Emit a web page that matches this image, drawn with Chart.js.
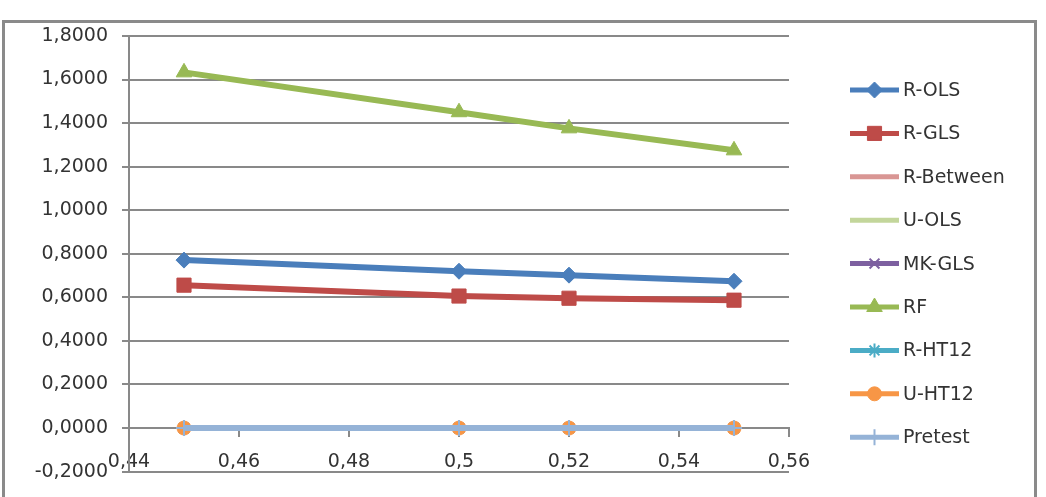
<!DOCTYPE html>
<html lang="en">
<head>
  <meta charset="UTF-8" />
  <title>Estimator comparison</title>
  <script src="https://cdn.jsdelivr.net/npm/chart.js"></script>
  <style>
    body {
      margin: 0;
      background: #fff;
    }
    #wrap {
      width: 1046px;
      height: 497px;
      position: relative;
    }
  </style>
</head>
<body>
  <div id="wrap">
    <canvas id="chart" width="1046" height="497"></canvas>
  </div>

  <script>
    // data
    const xValues = [0.45, 0.5, 0.52, 0.55];
    const xTickLabels = ["0,44", "0,46", "0,48", "0,5", "0,52", "0,54", "0,56"];
    const yTickLabels = ["-0,2000", "0,0000", "0,2000", "0,4000", "0,6000", "0,8000",
                         "1,0000", "1,2000", "1,4000", "1,6000", "1,8000"];

    const seriesNames = ["R-OLS", "R-GLS", "R-Between", "U-OLS", "MK-GLS", "RF", "R-HT12", "U-HT12", "Pretest"];
    const rOls     = [0.771, 0.720, 0.702, 0.674];
    const rGls     = [0.656, 0.606, 0.596, 0.587];
    const rBetween = [0.000, 0.000, 0.000, 0.000];
    const uOls     = [0.000, 0.000, 0.000, 0.000];
    const mkGls    = [0.000, 0.000, 0.000, 0.000];
    const rf       = [1.633, 1.450, 1.376, 1.275];
    const rHt12    = [0.000, 0.000, 0.000, 0.000];
    const uHt12    = [0.000, 0.000, 0.000, 0.000];
    const pretest  = [0.000, 0.000, 0.000, 0.000];

    const seriesValues = [rOls, rGls, rBetween, uOls, mkGls, rf, rHt12, uHt12, pretest];
    const seriesColors = ["#4a7ebb", "#be4b48", "#d99694", "#c3d69b", "#7d60a0", "#98b954", "#4bacc6", "#f79646", "#95b3d7"];
    const seriesMarkers = ["rectRot", "rect", false, false, "crossRot", "triangle", "star", "circle", "cross"];
    const markerSizes = [8, 10, 0, 0, 7, 9, 7, 7, 8];

    const FONT = "DejaVu Sans";
    const GRID = "#898989";
    const TEXT = "#333";

    const datasets = seriesNames.map((name, i) => ({
      label: name,
      data: xValues.map((x, j) => ({ x: x, y: seriesValues[i][j] })),
      borderColor: seriesColors[i],
      backgroundColor: seriesColors[i],
      borderWidth: 6,
      pointStyle: seriesMarkers[i],
      pointRadius: markerSizes[i],
      pointBorderWidth: seriesMarkers[i] === "cross" || seriesMarkers[i] === "crossRot" || seriesMarkers[i] === "star" ? 2 : 1,
      tension: 0,
      order: seriesNames.length - i
    }));

    // outer frame of the chart
    const framePlugin = {
      id: "frame",
      beforeDraw(chart) {
        const ctx = chart.ctx;
        ctx.save();
        ctx.strokeStyle = "#8a8a8a";
        ctx.lineWidth = 3;
        ctx.strokeRect(3.5, 21.5, 1032, 520);
        ctx.restore();
      }
    };

    // legend with line + marker samples
    const legendPlugin = {
      id: "sideLegend",
      afterDraw(chart) {
        const ctx = chart.ctx;
        const x0 = 850, x1 = 899, top = 90, step = 43.4;
        ctx.save();
        seriesNames.forEach((name, i) => {
          const y = top + i * step;
          ctx.strokeStyle = seriesColors[i];
          ctx.lineWidth = 5;
          ctx.lineCap = "butt";
          ctx.beginPath();
          ctx.moveTo(x0, y);
          ctx.lineTo(x1, y);
          ctx.stroke();
          if (seriesMarkers[i]) {
            ctx.fillStyle = seriesColors[i];
            ctx.strokeStyle = seriesColors[i];
            ctx.lineWidth = datasets[i].pointBorderWidth;
            Chart.helpers.drawPoint(ctx, {
              pointStyle: seriesMarkers[i],
              radius: markerSizes[i],
              rotation: 0,
              borderWidth: datasets[i].pointBorderWidth
            }, (x0 + x1) / 2, y);
          }
          ctx.fillStyle = TEXT;
          ctx.font = "19px '" + FONT + "'";
          ctx.textBaseline = "middle";
          ctx.textAlign = "left";
          ctx.fillText(name, 903, y + 1);
        });
        ctx.restore();
      }
    };

    new Chart(document.getElementById("chart"), {
      type: "line",
      data: { datasets: datasets },
      plugins: [framePlugin, legendPlugin],
      options: {
        responsive: false,
        devicePixelRatio: 1,
        animation: false,
        layout: { padding: { left: 0, top: 36, right: 257, bottom: 25 } },
        plugins: {
          legend: { display: false },
          tooltip: { enabled: false }
        },
        scales: {
          x: {
            type: "linear",
            min: 0.44,
            max: 0.56,
            position: { y: 0 },
            afterBuildTicks(scale) {
              scale.ticks = xTickLabels.map((t, i) => ({ value: 0.44 + i * 0.02 }));
            },
            grid: {
              drawOnChartArea: false,
              drawTicks: true,
              tickLength: 8,
              color: GRID,
              lineWidth: 2
            },
            border: { display: true, color: GRID, width: 2 },
            ticks: {
              padding: 15,
              maxRotation: 0,
              autoSkip: false,
              color: TEXT,
              font: { family: FONT, size: 19 },
              callback: (v, i) => xTickLabels[i]
            }
          },
          y: {
            min: -0.2,
            max: 1.8,
            afterBuildTicks(scale) {
              scale.ticks = yTickLabels.map((t, i) => ({ value: -0.2 + i * 0.2 }));
            },
            afterFit(scale) { scale.width = 129; },
            grid: {
              color: GRID,
              lineWidth: 2,
              drawTicks: true,
              tickLength: 7
            },
            border: { display: true, color: GRID, width: 2 },
            ticks: {
              padding: 14,
              autoSkip: false,
              color: TEXT,
              font: { family: FONT, size: 19 },
              callback: (v, i) => yTickLabels[i]
            }
          }
        }
      }
    });
  </script>
</body>
</html>
